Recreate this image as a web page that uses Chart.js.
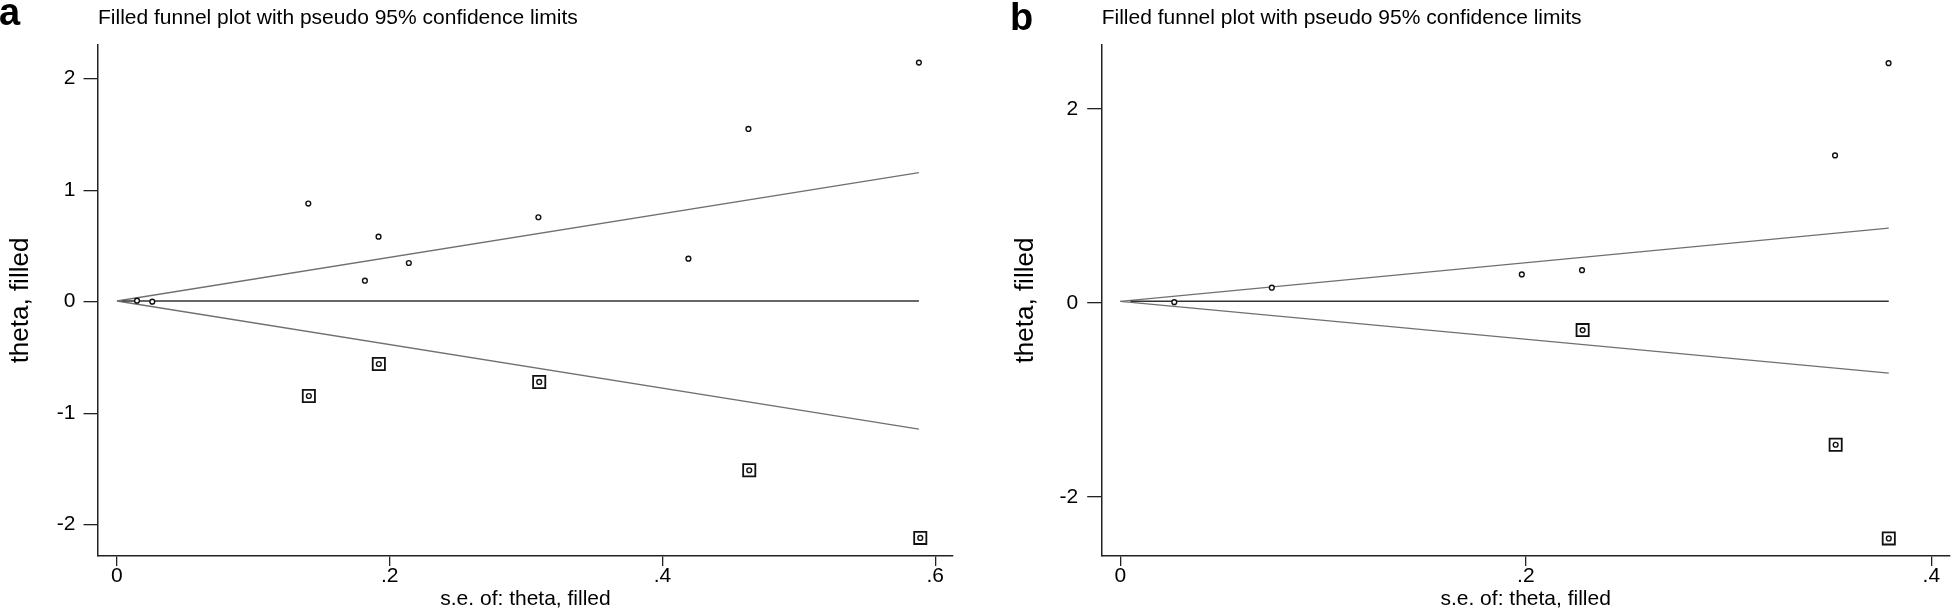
<!DOCTYPE html>
<html>
<head>
<meta charset="utf-8">
<script src="https://cdn.jsdelivr.net/npm/chart.js@4.4.1/dist/chart.umd.min.js"></script>
<style>
  html, body { margin: 0; padding: 0; background: #fff; }
  #wrap { position: relative; width: 1960px; height: 611px; overflow: hidden; font-family: "Liberation Sans", Arial, sans-serif; }
  canvas { position: absolute; top: 0; }
  #cA { left: 0; }
  #cB { left: 980px; }
  .tag { position: absolute; font-weight: bold; font-size: 38px; line-height: 38px; color: #000; }
</style>
</head>
<body>
<div id="wrap">
  <canvas id="cA" width="980" height="611"></canvas>
  <canvas id="cB" width="980" height="611"></canvas>
  <div class="tag" style="left:-1px;top:-7px">a</div>
  <div class="tag" style="left:1010px;top:-2px">b</div>
</div>
<script>
// ── panel a ─────────────────────────────────────────
// observed studies (s.e., theta)
const seA        = [0.0147, 0.0259, 0.1403, 0.1818, 0.1918, 0.214, 0.309, 0.419, 0.463, 0.588];
const thetaA     = [0.009, 0.0, 0.88, 0.188, 0.583, 0.347, 0.757, 0.386, 1.549, 2.144];
// filled (imputed) studies
const fillSeA    = [0.1407, 0.192, 0.3096, 0.4636, 0.589];
const fillThetaA = [-0.846, -0.559, -0.72, -1.512, -2.119];
// pseudo 95% limits + pooled estimate line
const funnelSeA  = [0, 0.588];
const upperA     = [0.006, 1.157];
const lowerA     = [0.006, -1.144];
const pooledSeA  = [0.004, 0.588];
const pooledA    = [0.006, 0.006];
const xTicksA    = [0, 0.2, 0.4, 0.6];
const xLabelsA   = ['0', '.2', '.4', '.6'];
const yTicksA    = [-2, -1, 0, 1, 2];
const yLabelsA   = ['-2', '-1', '0', '1', '2'];

// ── panel b ─────────────────────────────────────────
const seB        = [0.0266, 0.0747, 0.198, 0.2277, 0.3525, 0.3789];
const thetaB     = [0.006, 0.155, 0.292, 0.336, 1.519, 2.47];
const fillSeB    = [0.228, 0.3528, 0.379];
const fillThetaB = [-0.282, -1.464, -2.43];
const funnelSeB  = [0, 0.379];
const upperB     = [0.015, 0.769];
const lowerB     = [0.015, -0.726];
const pooledSeB  = [0.005, 0.379];
const pooledB    = [0.015, 0.015];
const xTicksB    = [0, 0.2, 0.4];
const xLabelsB   = ['0', '.2', '.4'];
const yTicksB    = [-2, 0, 2];
const yLabelsB   = ['-2', '0', '2'];

const TITLE = 'Filled funnel plot with pseudo 95% confidence limits';
const FONT  = '"Liberation Sans", Arial, Helvetica, sans-serif';

function pts(xs, ys) { return xs.map((x, i) => ({ x, y: ys[i] })); }

function panel(canvasId, p) {
    const lineDs = (xs, ys, color, w) => ({
        data: pts(xs, ys), showLine: true, pointRadius: 0,
        borderColor: color, borderWidth: w, fill: false
    });

    return new Chart(document.getElementById(canvasId), {
        type: 'scatter',
        data: {
            datasets: [
                {   // every study drawn as a small hollow circle
                    data: pts(p.se.concat(p.fillSe), p.theta.concat(p.fillTheta)),
                    pointStyle: 'circle', pointRadius: 2.4, borderWidth: 1.4,
                    borderColor: '#111', backgroundColor: '#fff'
                },
                {   // filled studies get a box round them
                    data: pts(p.fillSe, p.fillTheta),
                    pointStyle: 'rect', pointRadius: 8.6, borderWidth: 1.8,
                    borderColor: '#111', backgroundColor: 'rgba(0,0,0,0)'
                },
                lineDs(p.pooledSe, p.pooled, '#333', 1.6),
                lineDs(p.funnelSe, p.upper, '#707070', 1.3),
                lineDs(p.funnelSe, p.lower, '#707070', 1.3)
            ]
        },
        options: {
            responsive: false, animation: false, devicePixelRatio: 1, events: [],
            layout: { padding: { left: p.padLeft, right: p.padRight, top: 0, bottom: 0 } },
            plugins: {
                legend : { display: false },
                tooltip: { enabled: false },
                title  : {
                    display: true, text: TITLE, align: 'start', fullSize: false,
                    color: '#000', font: { family: FONT, size: 21, weight: 'normal', lineHeight: 1.2 },
                    padding: { top: 6, bottom: 13.8 }
                }
            },
            scales: {
                x: {
                    type: 'linear', position: 'bottom', min: p.xMin, max: p.xMax,
                    afterBuildTicks: s => { s.ticks = p.xTicks.map(v => ({ value: v })); },
                    afterFit: s => { s.height = 55; },
                    grid  : { drawOnChartArea: false, drawTicks: true, tickLength: 10, color: '#222', lineWidth: 1.3 },
                    border: { display: true, color: '#222', width: 1.5 },
                    ticks : {
                        color: '#000', padding: 0, maxRotation: 0, autoSkip: false,
                        font: { family: FONT, size: 21, lineHeight: 1 },
                        callback: (v, i) => p.xLabels[i]
                    },
                    title: {
                        display: true, text: 's.e. of: theta, filled', color: '#000',
                        font: { family: FONT, size: 21, lineHeight: 1.1 },
                        padding: { top: 0, bottom: 0 }
                    }
                },
                y: {
                    type: 'linear', position: 'left', min: p.yMin, max: p.yMax,
                    afterBuildTicks: s => { s.ticks = p.yTicks.map(v => ({ value: v })); },
                    afterFit: s => { s.width = p.yWidth; },
                    grid  : { drawOnChartArea: false, drawTicks: true, tickLength: 14.5, color: '#222', lineWidth: 1.3 },
                    border: { display: true, color: '#222', width: 1.5 },
                    ticks : {
                        color: '#000', padding: p.yPad, autoSkip: false,
                        font: { family: FONT, size: 21, lineHeight: 1.2 },
                        callback: (v, i) => p.yLabels[i]
                    },
                    title: {
                        display: true, text: 'theta, filled', color: '#000',
                        font: { family: FONT, size: 26, lineHeight: 1.2 },
                        padding: { top: p.yTitlePad, bottom: 0 }
                    }
                }
            }
        }
    });
}

panel('cA', {
    se: seA, theta: thetaA, fillSe: fillSeA, fillTheta: fillThetaA,
    funnelSe: funnelSeA, upper: upperA, lower: lowerA, pooledSe: pooledSeA, pooled: pooledA,
    xTicks: xTicksA, xLabels: xLabelsA, yTicks: yTicksA, yLabels: yLabelsA,
    xMin: -0.0139, xMax: 0.613, yMin: -2.281, yMax: 2.302,
    padLeft: 0, padRight: 27, yWidth: 98, yPad: 8, yTitlePad: 5.5
});

panel('cB', {
    se: seB, theta: thetaB, fillSe: fillSeB, fillTheta: fillThetaB,
    funnelSe: funnelSeB, upper: upperB, lower: lowerB, pooledSe: pooledSeB, pooled: pooledB,
    xTicks: xTicksB, xLabels: xLabelsB, yTicks: yTicksB, yLabels: yLabelsB,
    xMin: -0.0092, xMax: 0.409, yMin: -2.611, yMax: 2.657,
    padLeft: 25, padRight: 2, yWidth: 96.7, yPad: 9, yTitlePad: 5.5
});
</script>
</body>
</html>
